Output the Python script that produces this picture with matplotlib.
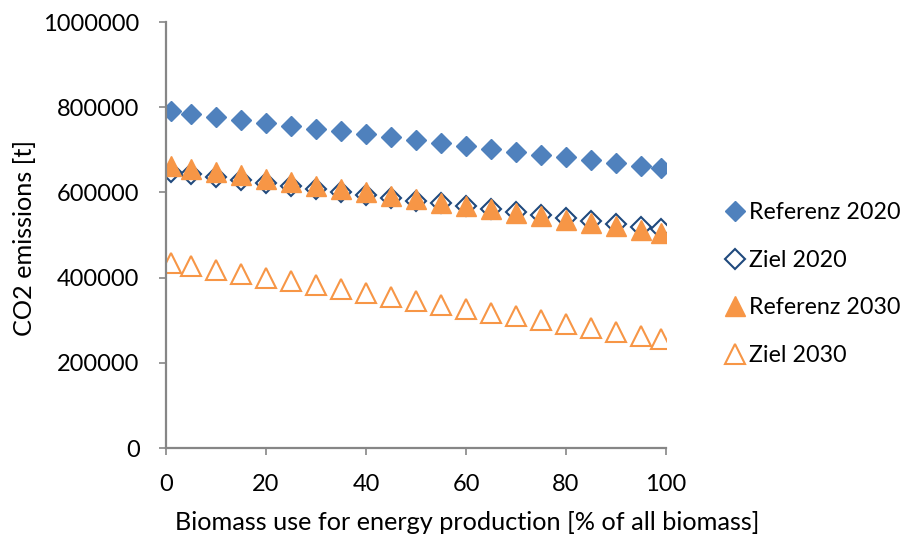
import matplotlib.pyplot as plt

plt.rcParams['font.family'] = ['Lato', 'DejaVu Sans']

share = [1, 5, 10, 15, 20, 25, 30, 35, 40, 45, 50, 55, 60, 65, 70, 75, 80, 85, 90, 95, 99]
referenz_2020 = [790000, 784000, 777000, 770000, 764000, 757000, 750000, 743000, 737000, 730000, 723000,
                 716000, 710000, 703000, 696000, 689000, 683000, 676000, 669000, 662000, 657000]
ziel_2020 = [648000, 643000, 636000, 629000, 622000, 615000, 608000, 601000, 594000, 587000, 581000,
             574000, 567000, 560000, 553000, 546000, 539000, 532000, 526000, 519000, 514000]
referenz_2030 = [662000, 656000, 648000, 640000, 632000, 624000, 616000, 608000, 600000, 592000, 584000,
                 576000, 568000, 560000, 552000, 544000, 536000, 528000, 520000, 512000, 505000]
ziel_2030 = [434000, 427000, 418000, 409000, 400000, 391000, 382000, 373000, 364000, 355000, 345000,
             336000, 327000, 318000, 309000, 300000, 291000, 282000, 273000, 264000, 256000]

blue = "#4F81BD"
dark_blue = "#1F497D"
orange = "#F79646"

fig = plt.figure(figsize=(9.09, 5.37), dpi=100)
ax = fig.add_axes([0.1826, 0.1657, 0.5501, 0.7933])

ax.plot(share, referenz_2020, linestyle="none", marker="D", markersize=10.5,
        color=blue, markeredgecolor=blue, label="Referenz 2020")
ax.plot(share, ziel_2020, linestyle="none", marker="D", markersize=10,
        markerfacecolor="white", markeredgecolor=dark_blue, markeredgewidth=1.5, label="Ziel 2020")
ax.plot(share, referenz_2030, linestyle="none", marker="^", markersize=14,
        color=orange, markeredgecolor=orange, label="Referenz 2030")
ax.plot(share, ziel_2030, linestyle="none", marker="^", markersize=14,
        markerfacecolor="white", markeredgecolor=orange, markeredgewidth=1.5, label="Ziel 2030")

ax.set_xlim(0, 100)
ax.set_ylim(0, 1000000)
ax.set_xticks([0, 20, 40, 60, 80, 100])
ax.set_yticks([0, 200000, 400000, 600000, 800000, 1000000])
ax.set_yticklabels(["0", "200000", "400000", "600000", "800000", "1000000"])

for side in ["top", "right"]:
    ax.spines[side].set_visible(False)
for side in ["left", "bottom"]:
    ax.spines[side].set_color("#868686")
    ax.spines[side].set_linewidth(1.6)
ax.tick_params(direction="out", length=5, width=1.2, color="#868686", labelsize=17)
ax.tick_params(axis="y", pad=14)
ax.tick_params(axis="x", pad=14)

ax.set_xlabel("Biomass use for energy production [% of all biomass]", fontsize=18.2)
ax.xaxis.set_label_coords(0.602, -0.148)
ax.set_ylabel("CO2 emissions [t]", fontsize=16.5, va="center")
ax.yaxis.set_label_coords(-0.282, 0.493)

# size the axis titles to the lengths they have in the reference (px)
fig.canvas.draw()
renderer = fig.canvas.get_renderer()
xl = ax.xaxis.label
xl.set_fontsize(xl.get_fontsize() * 585 / xl.get_window_extent(renderer).width)
yl = ax.yaxis.label
yl.set_fontsize(yl.get_fontsize() * 197 / yl.get_window_extent(renderer).height)
probe = fig.text(0, 0, "Referenz 2020", fontsize=17)
legend_size = 17 * 151 / probe.get_window_extent(renderer).width
probe.remove()

ax.legend(loc="center left", bbox_to_anchor=(1.097, 0.385), frameon=False, fontsize=legend_size,
          handletextpad=0.1, handlelength=1.0, labelspacing=1.15, borderaxespad=0)

fig.savefig("out.png", dpi=100)
